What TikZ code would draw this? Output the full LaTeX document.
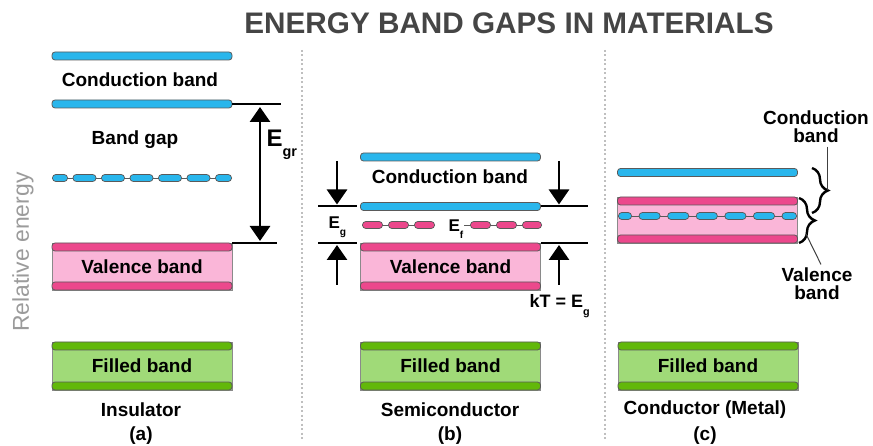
\documentclass[tikz,border=0pt]{standalone}
\usepackage{fontspec}
\setmainfont{Liberation Sans}
\usepackage{graphicx}
\usepackage{xcolor}
\usepackage{tikz}
\usetikzlibrary{arrows.meta,positioning,decorations.pathreplacing}

\definecolor{cyanbar}{HTML}{29B6EC}
\definecolor{pinkbar}{HTML}{EC488C}
\definecolor{pinkfill}{HTML}{FAB6D8}
\definecolor{greenbar}{HTML}{62B80A}
\definecolor{greenfill}{HTML}{A0DA78}
\definecolor{barline}{HTML}{5A5A5A}
\definecolor{boxline}{HTML}{8A8A8A}
\definecolor{titlegray}{HTML}{454545}
\definecolor{axisgray}{HTML}{9B9B9B}

% E with a small lowered index
\newcommand{\Esub}[1]{E\raisebox{-0.4em}{\scalebox{0.6}{#1}}}
% row of rounded dashes: colour, from, to, dash options
\newcommand{\pillrow}[4]{%
 \draw[line width=8pt,line cap=round,draw=barline,#4] #2 -- #3;
 \draw[line width=6.2pt,line cap=round,draw=#1,#4] #2 -- #3;}

\begin{document}
\begin{tikzpicture}[x=1pt,y=-1pt,
 lbl/.style={font=\bfseries\fontsize{19}{18}\selectfont,align=center},
 small/.style={font=\bfseries\fontsize{17}{17}\selectfont,anchor=base west},
 bandbar/.style={draw=barline,line width=0.8pt,rounded corners=3pt,minimum width=180pt,minimum height=8pt,inner sep=0pt},
 bluebar/.style={bandbar,fill=cyanbar},
 pinkbar/.style={bandbar,fill=pinkbar},
 greenbar/.style={bandbar,fill=greenbar},
 pinkbox/.style={lbl,draw=boxline,line width=0.8pt,fill=pinkfill,minimum width=180pt,minimum height=47pt,inner sep=0pt},
 greenbox/.style={lbl,draw=boxline,line width=0.8pt,fill=greenfill,minimum width=180pt,minimum height=48pt,inner sep=0pt},
 reflevel/.style={line width=2pt},
 gaparrow/.style={line width=2.8pt,-{Triangle[width=20pt,length=15pt]}},
 divider/.style={draw=gray!50,line width=1.6pt,dash pattern=on 2pt off 2.5pt},
 thinline/.style={draw=barline,line width=0.8pt},
 curly/.style={decorate,decoration={brace,amplitude=16pt},line width=2.4pt},
 leader/.style={line width=1pt,draw=darkgray}]
 \useasboundingbox (0,0) rectangle (873,446);

 \node[font=\bfseries\fontsize{29.7}{30}\selectfont,text=titlegray] (title) at (509,23) {ENERGY BAND GAPS IN MATERIALS};
 \node[rotate=90,font=\fontsize{22.9}{24}\selectfont,text=axisgray] (axis) at (23,252) {Relative energy};
 \draw[divider] (302,50) -- (302,440);
 \draw[divider] (605,50) -- (605,440);

 % (a) insulator
 \node[bluebar] (cA1) at (142,56) {};
 \node[lbl] (cAt) at (140,80) {Conduction band};
 \node[bluebar] (cA2) at (142,104) {};
 \node[lbl] (gapA) at (135,140) {Band gap};
 \draw[thinline] (52,178) -- (232,178);
 \pillrow{cyanbar}{(56,178)}{(228,178)}{dash pattern=on 16pt off 12.5pt,dash phase=8pt}
 \node[pinkbox] (vA) at (142,266.5) {Valence band};
 \node[pinkbar,anchor=north] (vA1) at (vA.north) {};
 \node[pinkbar,anchor=south] (vA2) at (vA.south) {};
 \coordinate (topA) at (281,104);
 \coordinate (botA) at (277,243.5);
 \draw[reflevel] (cA2.east) -- (topA);
 \draw[reflevel] (vA.north east |- botA) -- (botA);
 \coordinate (gA1) at (260,107);
 \coordinate (gA2) at (260,241);
 \draw[gaparrow,{Triangle[width=20pt,length=15pt]}-{Triangle[width=20pt,length=15pt]}] (gA1) -- (gA2);
 \node[small,font=\bfseries\fontsize{24}{24}\selectfont] (egr) at (263,147) {\Esub{gr}};

 % (b) semiconductor
 \node[bluebar] (cB1) at (450.5,157) {};
 \node[lbl] (cBt) at (450,177) {Conduction band};
 \node[bluebar] (cB2) at (450.5,206.5) {};
 \draw[thinline] (362,225) -- (435,225);
 \draw[thinline] (464,225) -- (542,225);
 \pillrow{pinkbar}{(366,225)}{(431,225)}{dash pattern=on 13pt off 13pt}
 \pillrow{pinkbar}{(474,225)}{(538,225)}{dash pattern=on 13pt off 13pt}
 \node[small] (ef) at (445,232) {\Esub{f}};
 \node[pinkbox] (vB) at (450.5,266.5) {Valence band};
 \node[pinkbar,anchor=north] (vB1) at (vB.north) {};
 \node[pinkbar,anchor=south] (vB2) at (vB.south) {};
 \coordinate (cBl) at (318,206.5);
 \coordinate (cBr) at (588,206.5);
 \coordinate (vBl) at (318,243.5);
 \coordinate (vBr) at (588,243.5);
 \draw[reflevel] (cBl) -- ([xshift=-3pt]cB2.west);
 \draw[reflevel] (cB2.east) -- (cBr);
 \draw[reflevel] (vBl) -- ([xshift=-3pt]vB.west |- vBl);
 \draw[reflevel] (vB.east |- vBr) -- (vBr);
 \coordinate (dL1) at (337,161);
 \coordinate (dL2) at (337,204.5);
 \coordinate (uL1) at (337,285);
 \coordinate (uL2) at (337,245);
 \coordinate (dR1) at (559,161);
 \coordinate (dR2) at (559,204.5);
 \coordinate (uR1) at (559,285);
 \coordinate (uR2) at (559,245);
 \draw[gaparrow] (dL1) -- (dL2);
 \draw[gaparrow] (uL1) -- (uL2);
 \draw[gaparrow] (dR1) -- (dR2);
 \draw[gaparrow] (uR1) -- (uR2);
 \node[small] (eg) at (325,229) {\Esub{g}};
 \node[small,font=\bfseries\fontsize{18}{18}\selectfont] (kt) at (526,308) {kT = \Esub{g}};

 % (c) conductor
 \node[bluebar] (cC) at (707.5,172.5) {};
 \node[pinkbox,minimum height=46pt] (vC) at (707.5,220) {};
 \node[pinkbar,anchor=north] (vC1) at (vC.north) {};
 \node[pinkbar,anchor=south] (vC2) at (vC.south) {};
 \draw[thinline] (618,216) -- (797,216);
 \pillrow{cyanbar}{(622,216)}{(793,216)}{dash pattern=on 14pt off 14.6pt,dash phase=8pt}
 \coordinate (brC1) at (812,168);
 \coordinate (brC2) at (812,213);
 \coordinate (brV1) at (799,198);
 \coordinate (brV2) at (799,243);
 \draw[curly] (brC1) -- (brC2);
 \draw[curly] (brV1) -- (brV2);
 \node[lbl] (cCl) at (816,127) {Conduction\\band};
 \node[lbl] (vCl) at (817,284) {Valence\\band};
 \coordinate (cTip) at (827,190.5);
 \coordinate (vTip) at (806,234);
 \draw[leader] ([xshift=11pt]cCl.south) -- (cTip);
 \draw[leader] ([xshift=4pt]vCl.north) -- (vTip);

 % filled bands and captions
 \node[greenbox] (fA) at (142,366) {Filled band};
 \node[greenbar,anchor=north] (fA1) at (fA.north) {};
 \node[greenbar,anchor=south] (fA2) at (fA.south) {};
 \node[greenbox] (fB) at (450.5,366) {Filled band};
 \node[greenbar,anchor=north] (fB1) at (fB.north) {};
 \node[greenbar,anchor=south] (fB2) at (fB.south) {};
 \node[greenbox] (fC) at (708,366) {Filled band};
 \node[greenbar,anchor=north] (fC1) at (fC.north) {};
 \node[greenbar,anchor=south] (fC2) at (fC.south) {};
 \node[lbl] (capA) at (141,410) {Insulator};
 \node[lbl] (tagA) at (141,436) {(a)};
 \node[lbl] (capB) at (450,410) {Semiconductor};
 \node[lbl] (tagB) at (450,436) {(b)};
 \node[lbl] (capC) at (705,410) {Conductor (Metal)};
 \node[lbl] (tagC) at (705,436) {(c)};
\end{tikzpicture}
\end{document}
